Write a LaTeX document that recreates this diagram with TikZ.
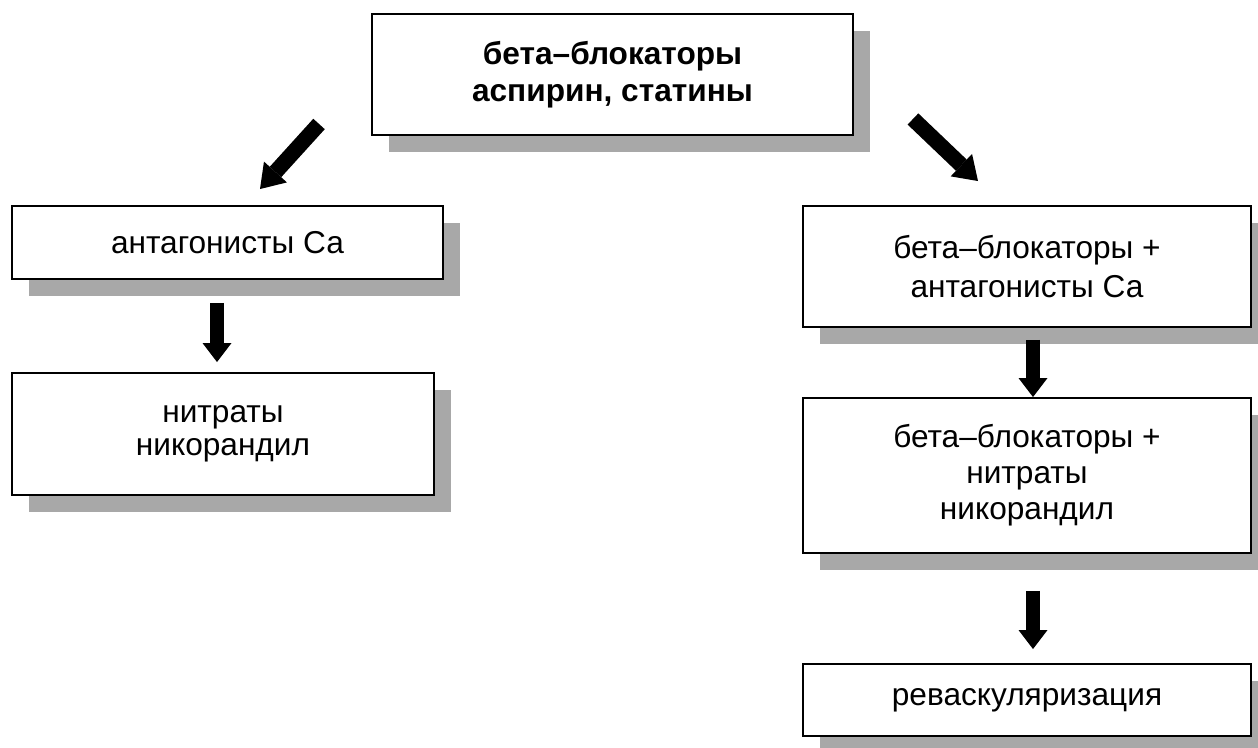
\documentclass[tikz,border=0pt]{standalone}
\usepackage{fontspec}
\setmainfont{Liberation Sans}
\usetikzlibrary{positioning, shadows, arrows.meta}
\definecolor{shadowGray}{RGB}{168,168,168}
\tikzstyle{box} = [rectangle, draw=black, line width=1.1pt, fill=white, align=center,
font=\fontsize{18}{20.5}\selectfont,
drop shadow={shadow xshift=0.34cm, shadow yshift=-0.34cm, fill=shadowGray, opacity=1}]
\tikzstyle{fat} = [line width=0.29cm, -{Triangle[width=0.58cm, length=0.38cm, line width=0pt]}]
\tikzstyle{fatDiag} = [line width=0.31cm, -{Triangle[width=0.62cm, length=0.46cm, line width=0pt]}]

\begin{document}
\begin{tikzpicture}[node distance=1cm]
    \useasboundingbox (0,0) rectangle (25.16,-14.94);
    \node (topBox) [box, minimum width=9.62cm, minimum height=2.42cm, font=\bfseries\fontsize{18}{21}\selectfont] at (12.25,-1.49) {бета–блокаторы\\аспирин, статины};
    \node (antagonists) [box, left of=topBox, xshift=-6.7cm, yshift=-3.36cm, minimum width=8.62cm, minimum height=1.46cm] {антагонисты Са};
    \node (nitrates) [box, below of=antagonists, xshift=-0.09cm, yshift=-2.83cm, minimum width=8.44cm, minimum height=2.44cm, font=\fontsize{18}{18.5}\selectfont] {нитраты\\никорандил};
    \node (betaAntag) [box, right of=topBox, xshift=7.29cm, yshift=-3.84cm, minimum width=8.96cm, minimum height=2.42cm, font=\fontsize{18}{22}\selectfont] {бета–блокаторы +\\антагонисты Са};
    \node (betaNitr) [box, below of=betaAntag, yshift=-3.18cm, minimum width=8.96cm, minimum height=3.10cm] {бета–блокаторы +\\нитраты\\никорандил};
    \node (revasc) [box, below of=betaNitr, yshift=-3.49cm, minimum width=8.96cm, minimum height=1.44cm] {реваскуляризация};

    \draw[fatDiag] ([shift={(-1.04,0.24)}]topBox.south west) -- ([shift={(0.65,0.32)}]antagonists.north);
    \draw[fatDiag] ([shift={(1.18,0.34)}]topBox.south east) -- ([shift={(-0.98,0.48)}]betaAntag.north);
    \draw[fat, shorten <=0.46cm, shorten >=0.2cm] ([xshift=-0.21cm]antagonists.south) -- ([xshift=-0.21cm]antagonists.south |- nitrates.north);
    \draw[fat, shorten <=0.24cm] ([xshift=0.12cm]betaAntag.south) -- ([xshift=0.12cm]betaNitr.north);
    \draw[fat, shorten <=0.74cm, shorten >=0.28cm] ([xshift=0.12cm]betaNitr.south) -- ([xshift=0.12cm]revasc.north);
\end{tikzpicture}
\end{document}
